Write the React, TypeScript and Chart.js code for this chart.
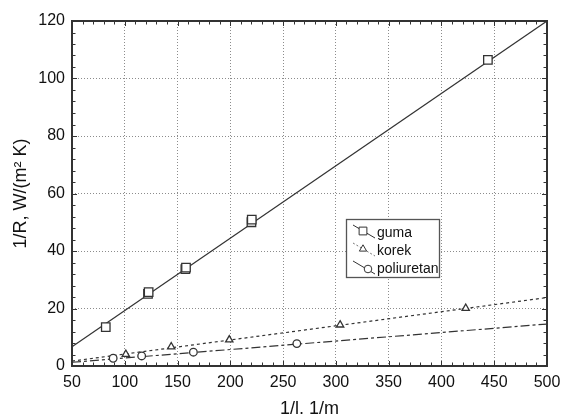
import React, { useEffect, useRef } from "react";
import { Chart, registerables } from "chart.js";

Chart.register(...registerables);

// ---- data ----
const xTickStep = 50;
const yTickStep = 20;
const xMinorStep = 10;
const yMinorStep = 4;
const xRange = [50, 500];
const yRange = [0, 120];

const gumaX = [82, 122, 122.6, 157.4, 158, 220, 220.3, 444];
const gumaY = [13.5, 25.1, 25.7, 33.7, 34.2, 50.0, 50.9, 106.5];

const korekX = [101, 144, 199, 304, 423];
const korekY = [4.1, 6.7, 9.1, 14.3, 20.1];

const poliX = [89, 116, 165, 263];
const poliY = [2.7, 3.5, 4.8, 7.8];

// fitted straight lines (end values at the axis limits)
const fitX = [50, 500];
const gumaFit = [6.7, 120];
const korekFit = [1.7, 23.8];
const poliFit = [1.3, 14.6];

const seriesNames = ["guma", "korek", "poliuretan"];
const xTitle = "1/l, 1/m";
const yTitle = "1/R, W/(m² K)";

const FONT = "'Liberation Sans', Arial, Helvetica, sans-serif";
const INK = "#333333";

const pts = (xs: number[], ys: number[]) => xs.map((x, i) => ({ x, y: ys[i] }));

const styles = [
  { dash: [] as number[], marker: "rect", radius: 6 },
  { dash: [3, 3], marker: "triangle", radius: 4.2 },
  { dash: [9, 3, 3, 3], marker: "circle", radius: 3.8 },
];

function drawMarker(ctx: CanvasRenderingContext2D, kind: string, x: number, y: number, r: number) {
  ctx.beginPath();
  if (kind === "rect") {
    const s = Math.SQRT1_2 * r;
    ctx.rect(x - s, y - s, 2 * s, 2 * s);
  } else if (kind === "triangle") {
    ctx.moveTo(x, y - r);
    ctx.lineTo(x + r * 0.866, y + r * 0.5);
    ctx.lineTo(x - r * 0.866, y + r * 0.5);
    ctx.closePath();
  } else {
    ctx.arc(x, y, r, 0, Math.PI * 2);
  }
  ctx.fillStyle = "#fff";
  ctx.fill();
  ctx.stroke();
}

export default function App() {
  const ref = useRef<HTMLCanvasElement>(null);

  useEffect(() => {
    document.body.style.margin = "0";
    const canvas = ref.current;
    if (!canvas) return;

    const framePlugin = {
      id: "frame",
      afterDraw(chart: any) {
        const { ctx, chartArea } = chart;
        const { left, right, top, bottom } = chartArea;
        const xs = chart.scales.x;
        const ys = chart.scales.y;
        ctx.save();
        ctx.strokeStyle = INK;
        ctx.lineWidth = 1;
        ctx.beginPath();
        for (let v = xRange[0]; v <= xRange[1]; v += xMinorStep) {
          const px = Math.round(xs.getPixelForValue(v)) + 0.5;
          const len = v % xTickStep === 0 ? 5 : 3.5;
          ctx.moveTo(px, bottom);
          ctx.lineTo(px, bottom - len);
          ctx.moveTo(px, top);
          ctx.lineTo(px, top + len);
        }
        for (let v = yRange[0]; v <= yRange[1]; v += yMinorStep) {
          const py = Math.round(ys.getPixelForValue(v)) + 0.5;
          const len = v % yTickStep === 0 ? 5 : 3.5;
          ctx.moveTo(left, py);
          ctx.lineTo(left + len, py);
          ctx.moveTo(right, py);
          ctx.lineTo(right - len, py);
        }
        ctx.stroke();
        ctx.lineWidth = 2;
        ctx.strokeRect(left, top, right - left, bottom - top);

        // legend
        const lx = 346, ly = 219, lw = 93, lh = 58;
        ctx.fillStyle = "#fff";
        ctx.fillRect(lx, ly, lw, lh);
        ctx.lineWidth = 1.3;
        ctx.strokeStyle = "#555";
        ctx.strokeRect(lx + 0.5, ly + 0.5, lw, lh);
        ctx.font = `14px ${FONT}`;
        ctx.textBaseline = "middle";
        ctx.textAlign = "left";
        seriesNames.forEach((name, i) => {
          const yc = ly + 13 + i * 18;
          const st = styles[i];
          ctx.strokeStyle = i === 1 ? "#777" : INK;
          ctx.lineWidth = 1;
          ctx.setLineDash(i === 1 ? [2, 2] : []);
          ctx.beginPath();
          ctx.moveTo(lx + 7, yc - 7);
          ctx.lineTo(lx + 29, yc + 6);
          ctx.stroke();
          ctx.setLineDash([]);
          ctx.strokeStyle = INK;
          const mx = i === 2 ? lx + 22 : lx + 17;
          drawMarker(ctx, st.marker, mx, yc + (i === 2 ? 1 : -1), i === 0 ? 5.5 : st.radius);
          ctx.fillStyle = "#111";
          ctx.fillText(name, lx + 31, yc + 1);
        });
        ctx.restore();
      },
    };

    const pointDs = (label: string, xs: number[], ys: number[], i: number) => ({
      label,
      data: pts(xs, ys),
      showLine: false,
      pointStyle: styles[i].marker,
      pointRadius: styles[i].radius,
      pointBorderColor: INK,
      pointBackgroundColor: "#fff",
      pointBorderWidth: 1.3,
      order: 0,
    });
    const lineDs = (label: string, ys: number[], i: number) => ({
      label: label + " fit",
      data: pts(fitX, ys),
      showLine: true,
      borderColor: INK,
      borderWidth: 1.2,
      borderDash: styles[i].dash,
      pointRadius: 0,
      fill: false,
      order: 1,
    });

    const chart = new Chart(canvas, {
      type: "scatter",
      data: {
        datasets: [
          pointDs(seriesNames[0], gumaX, gumaY, 0),
          pointDs(seriesNames[1], korekX, korekY, 1),
          pointDs(seriesNames[2], poliX, poliY, 2),
          lineDs(seriesNames[0], gumaFit, 0),
          lineDs(seriesNames[1], korekFit, 1),
          lineDs(seriesNames[2], poliFit, 2),
        ] as any,
      },
      options: {
        animation: false,
        responsive: false,
        devicePixelRatio: 1,
        layout: { padding: { left: 0, top: 21, right: 14, bottom: 0 } },
        plugins: {
          legend: { display: false },
          tooltip: { enabled: false },
        },
        scales: {
          x: {
            type: "linear",
            min: xRange[0],
            max: xRange[1],
            ticks: {
              stepSize: xTickStep,
              color: "#111",
              font: { family: FONT, size: 16 },
              padding: 7,
              maxRotation: 0,
              autoSkip: false,
            },
            grid: { color: "#8c8c8c", lineWidth: 1, drawTicks: false },
            border: { display: false, dash: [1, 2] },
            title: {
              display: true,
              text: xTitle,
              color: "#111",
              font: { family: FONT, size: 18, lineHeight: 1 },
              padding: { top: 0, bottom: -4 },
            },
            afterFit(s: any) {
              s.height = 48;
              s.paddingLeft = 0;
              s.paddingRight = 0;
            },
          },
          y: {
            type: "linear",
            min: yRange[0],
            max: yRange[1],
            ticks: {
              stepSize: yTickStep,
              color: "#111",
              font: { family: FONT, size: 16 },
              padding: 7,
            },
            grid: { color: "#8c8c8c", lineWidth: 1, drawTicks: false },
            border: { display: false, dash: [1, 2] },
            title: {
              display: true,
              text: yTitle,
              color: "#111",
              font: { family: FONT, size: 18, lineHeight: 1 },
              padding: { top: 12, bottom: 0 },
            },
            afterFit(s: any) {
              s.width = 72;
              s.paddingTop = 0;
              s.paddingBottom = 0;
            },
          },
        },
      } as any,
      plugins: [framePlugin],
    });
    return () => chart.destroy();
  }, []);

  return <canvas ref={ref} width={561} height={414} style={{ display: "block" }} />;
}
